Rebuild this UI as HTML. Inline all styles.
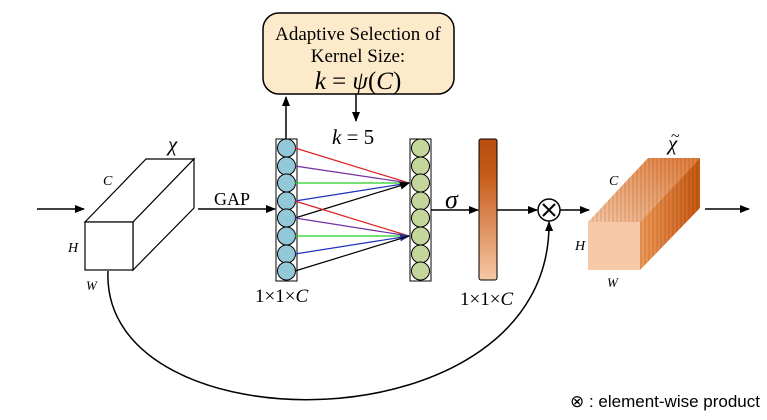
<!DOCTYPE html>
<html><head><style>body{margin:0;background:#fff}svg{display:block}.s{font-family:"Liberation Serif","DejaVu Serif",serif}</style></head><body>
<svg width="767" height="420" viewBox="0 0 767 420" xmlns="http://www.w3.org/2000/svg" class="s">
<defs>
<marker id="a" markerWidth="10" markerHeight="8" refX="9" refY="4" orient="auto" markerUnits="userSpaceOnUse"><path d="M0,0 L10,4 L0,8 z" fill="#000"/></marker>
<marker id="ab" markerWidth="10" markerHeight="8" refX="9" refY="4" orient="auto" markerUnits="userSpaceOnUse"><path d="M0,0 L10,4 L0,8 z" fill="#223399"/></marker>
<linearGradient id="bar" x1="0" y1="0" x2="0" y2="1"><stop offset="0" stop-color="#b84d10"/><stop offset="0.25" stop-color="#c65a18"/><stop offset="1" stop-color="#f6c8a6"/></linearGradient>
<linearGradient id="side" x1="0" y1="0" x2="1" y2="0"><stop offset="0" stop-color="#f09a5a"/><stop offset="1" stop-color="#c85810"/></linearGradient>
<linearGradient id="top" x1="0" y1="1" x2="1" y2="0"><stop offset="0" stop-color="#f6c4a0"/><stop offset="1" stop-color="#e07a38"/></linearGradient>
<pattern id="stripes" width="4" height="10" patternUnits="userSpaceOnUse"><rect width="2" height="10" fill="#000" opacity="0.08"/></pattern>
</defs>
<rect x="263" y="13" width="191" height="81" rx="16" fill="#fdeacb" stroke="#000" stroke-width="1.5"/>
<text x="358" y="40" font-size="19" text-anchor="middle">Adaptive Selection of</text>
<text x="358" y="62" font-size="19" text-anchor="middle">Kernel Size:</text>
<text x="358" y="89" font-size="25" text-anchor="middle"><tspan font-style="italic">k</tspan> = <tspan font-style="italic">ψ</tspan>(<tspan font-style="italic">C</tspan>)</text>
<line x1="286" y1="139" x2="286" y2="97" stroke="#000" stroke-width="1.5" marker-end="url(#a)"/>
<line x1="356" y1="94" x2="356" y2="121" stroke="#000" stroke-width="1.5" marker-end="url(#a)"/>
<text x="332" y="144" font-size="21"><tspan font-style="italic">k</tspan> = 5</text>
<line x1="37" y1="209" x2="84" y2="209" stroke="#000" stroke-width="1.5" marker-end="url(#a)"/>
<g fill="#fff" stroke="#000" stroke-width="1.2">
<polygon points="85,222 146,159 194,159 133,222"/>
<polygon points="133,222 194,159 194,208 133,270"/>
<rect x="85" y="222" width="48" height="48"/>
</g>
<text x="168" y="151" font-size="21" font-style="italic">χ</text>
<text x="103" y="185" font-size="14" font-style="italic">C</text>
<text x="68" y="252" font-size="14" font-style="italic">H</text>
<text x="86" y="290" font-size="13" font-style="italic">W</text>
<text x="214" y="205" font-size="18">GAP</text>
<line x1="198" y1="209" x2="275" y2="209" stroke="#000" stroke-width="1.5" marker-end="url(#a)"/>
<rect x="276" y="139" width="21" height="142" fill="#fff" stroke="#000"/>
<g fill="#92c8d8" stroke="#000" stroke-width="1">
<circle cx="286.5" cy="148" r="9"/><circle cx="286.5" cy="166" r="9"/><circle cx="286.5" cy="183" r="9"/><circle cx="286.5" cy="201" r="9"/><circle cx="286.5" cy="218" r="9"/><circle cx="286.5" cy="236" r="9"/><circle cx="286.5" cy="254" r="9"/><circle cx="286.5" cy="271" r="9"/>
</g>
<rect x="410" y="139" width="21" height="142" fill="#fff" stroke="#000"/>
<g fill="#c4d69c" stroke="#000" stroke-width="1">
<circle cx="420.5" cy="148" r="9"/><circle cx="420.5" cy="166" r="9"/><circle cx="420.5" cy="183" r="9"/><circle cx="420.5" cy="201" r="9"/><circle cx="420.5" cy="218" r="9"/><circle cx="420.5" cy="236" r="9"/><circle cx="420.5" cy="254" r="9"/><circle cx="420.5" cy="271" r="9"/>
</g>
<g stroke-width="1.2">
<line x1="295" y1="148" x2="409" y2="183" stroke="#e02020"/>
<line x1="295" y1="166" x2="409" y2="183" stroke="#7030a0"/>
<line x1="295" y1="183" x2="409" y2="183" stroke="#20d020"/>
<line x1="295" y1="201" x2="409" y2="183" stroke="#2030c0"/>
<line x1="295" y1="218" x2="409" y2="183" stroke="#000" marker-end="url(#a)"/>
<line x1="295" y1="201" x2="409" y2="236" stroke="#e02020"/>
<line x1="295" y1="218" x2="409" y2="236" stroke="#7030a0"/>
<line x1="295" y1="236" x2="409" y2="236" stroke="#20d020"/>
<line x1="295" y1="254" x2="409" y2="236" stroke="#2030c0" marker-end="url(#ab)"/>
<line x1="295" y1="271" x2="409" y2="236" stroke="#000"/>
</g>
<text x="255" y="302" font-size="19">1×1×<tspan font-style="italic">C</tspan></text>
<text x="445" y="208" font-size="26" font-style="italic">σ</text>
<line x1="431" y1="210" x2="478" y2="210" stroke="#000" stroke-width="1.5" marker-end="url(#a)"/>
<rect x="479" y="139" width="18" height="141" rx="2" fill="url(#bar)" stroke="#000"/>
<text x="460" y="305" font-size="19">1×1×<tspan font-style="italic">C</tspan></text>
<line x1="497" y1="210" x2="537" y2="210" stroke="#000" stroke-width="1.5" marker-end="url(#a)"/>
<circle cx="549" cy="210" r="11" fill="#fff" stroke="#000" stroke-width="1.5"/>
<path d="M543,204 L555,216 M555,204 L543,216" stroke="#000" stroke-width="2"/>
<line x1="560" y1="210" x2="589" y2="210" stroke="#000" stroke-width="1.5" marker-end="url(#a)"/>
<path d="M108,271 C100,450 552,450 549,222" fill="none" stroke="#000" stroke-width="1.5" marker-end="url(#a)"/>
<polygon points="588,222 648,158 700,158 640,222" fill="url(#top)"/>
<polygon points="588,222 648,158 700,158 640,222" fill="url(#stripes)"/>
<polygon points="640,222 700,158 700,208 640,270" fill="url(#side)"/>
<polygon points="640,222 700,158 700,208 640,270" fill="url(#stripes)"/>
<rect x="588" y="222" width="52" height="48" fill="#f8c9a8"/>
<text x="668" y="150" font-size="21" font-style="italic">χ</text>
<text x="671" y="141" font-size="16">~</text>
<text x="609" y="185" font-size="14" font-style="italic">C</text>
<text x="575" y="250" font-size="14" font-style="italic">H</text>
<text x="607" y="287" font-size="13" font-style="italic">W</text>
<line x1="705" y1="209" x2="749" y2="209" stroke="#000" stroke-width="1.5" marker-end="url(#a)"/>
<text x="570" y="407" font-size="17" style="font-family:'Liberation Sans',sans-serif">⊗ : element-wise product</text>
</svg>
</body></html>
